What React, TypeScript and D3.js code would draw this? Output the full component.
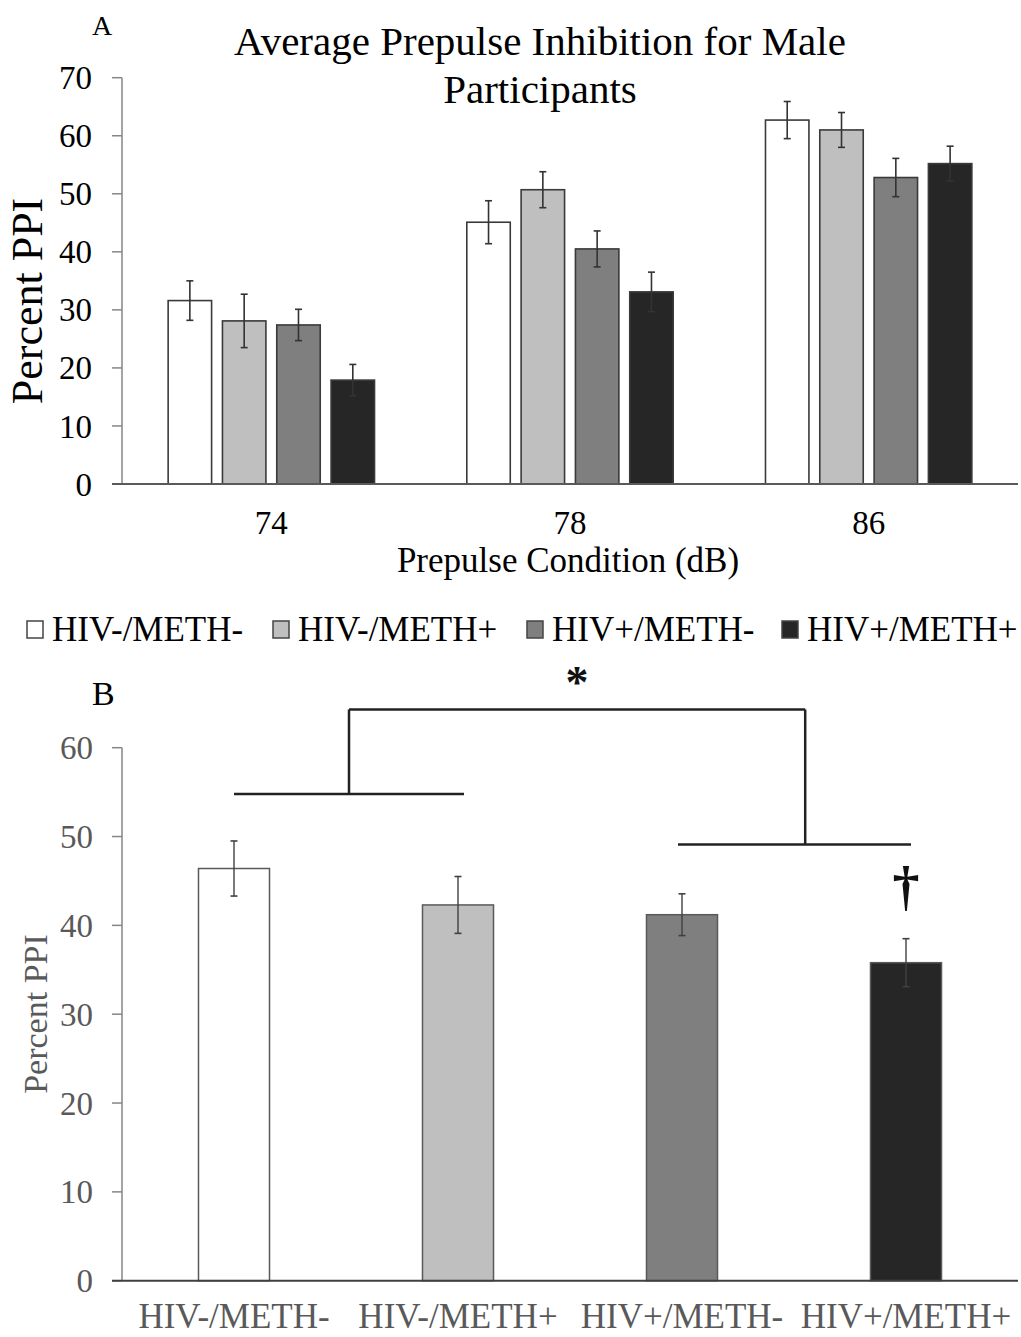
import React from "react";
import * as d3 from "d3";

// ---------- Data ----------
const conditions = ["74", "78", "86"];
const groups = ["HIV-/METH-", "HIV-/METH+", "HIV+/METH-", "HIV+/METH+"];
const groupFills = ["#ffffff", "#bfbfbf", "#7f7f7f", "#262626"];

// Panel A: mean percent PPI per condition (74, 78, 86 dB)
const meanNegNeg = [31.6, 45.1, 62.7];
const meanNegPos = [28.1, 50.7, 61.0];
const meanPosNeg = [27.4, 40.5, 52.8];
const meanPosPos = [17.9, 33.1, 55.2];
// Panel A: SEM
const semNegNeg = [3.4, 3.7, 3.2];
const semNegPos = [4.6, 3.1, 3.0];
const semPosNeg = [2.7, 3.1, 3.3];
const semPosPos = [2.7, 3.4, 3.0];

const ticksA = [0, 10, 20, 30, 40, 50, 60, 70];

// Panel B: mean percent PPI across conditions
const meanB = [46.4, 42.3, 41.2, 35.8];
const semB = [3.1, 3.2, 2.35, 2.7];
const ticksB = [0, 10, 20, 30, 40, 50, 60];

// Panel B significance bracket levels (percent PPI units)
const bracketLeftLevel = 54.8;
const bracketTopLevel = 64.3;
const bracketRightLevel = 49.1;

const FONT = "'Liberation Serif', 'Times New Roman', serif";

export default function App() {
  const means = [meanNegNeg, meanNegPos, meanPosNeg, meanPosPos];
  const sems = [semNegNeg, semNegPos, semPosNeg, semPosPos];

  // Panel A scales
  const xA0 = d3
    .scaleBand<string>()
    .domain(conditions)
    .range([122, 1018])
    .paddingInner(0.309)
    .paddingOuter(0.1545);
  const xA1 = d3
    .scaleBand<string>()
    .domain(groups)
    .range([0, xA0.bandwidth()])
    .paddingInner(0.2);
  const yA = d3.scaleLinear().domain([0, 70]).range([484, 77.7]);

  // Panel B scales
  const xB = d3
    .scaleBand<string>()
    .domain(groups)
    .range([122, 1018])
    .paddingInner(0.683)
    .paddingOuter(0.3415);
  const yB = d3.scaleLinear().domain([0, 60]).range([1280.7, 747.7]);

  const cB = (i: number) => (xB(groups[i]) as number) + xB.bandwidth() / 2;
  const leftX1 = cB(0);
  const leftX2 = cB(1) + 6;
  const rightX1 = cB(2) - 4;
  const rightX2 = cB(3) + 5;
  const leftMid = (leftX1 + leftX2) / 2;
  const rightMid = cB(2) + 0.55 * (cB(3) - cB(2));

  const legendX = [27, 273, 527, 782];

  return (
    <svg
      width={1021}
      height={1337}
      style={{ position: "absolute", left: 0, top: 0, background: "#fff" }}
      fontFamily={FONT}
    >
      <rect x={0} y={0} width={1021} height={1337} fill="#fff" />
      {/* ---------- Panel A ---------- */}
      <text x={92} y={35} fontSize={28} fill="#000">A</text>
      <text x={540} y={55} fontSize={41} textAnchor="middle" fill="#000">
        Average Prepulse Inhibition for Male
      </text>
      <text x={540} y={103} fontSize={41} textAnchor="middle" fill="#000">
        Participants
      </text>

      {/* y axis */}
      <line x1={122} x2={122} y1={yA(70)} y2={yA(0)} stroke="#868686" strokeWidth={1.5} />
      {ticksA.map((t) => (
        <g key={"ta" + t}>
          <line x1={112} x2={122} y1={yA(t)} y2={yA(t)} stroke="#868686" strokeWidth={1.5} />
          <text x={92} y={yA(t)} dy="0.35em" fontSize={33} textAnchor="end" fill="#000">
            {t}
          </text>
        </g>
      ))}
      <text
        transform={`translate(42, 301) rotate(-90)`}
        fontSize={44}
        textAnchor="middle"
        fill="#000"
      >
        Percent PPI
      </text>

      {/* bars */}
      {conditions.map((c, ci) => (
        <g key={"ga" + c} transform={`translate(${xA0(c)},0)`}>
          {groups.map((g, gi) => {
            const v = means[gi][ci];
            const e = sems[gi][ci];
            const x = xA1(g) as number;
            const cx = x + xA1.bandwidth() / 2;
            return (
              <g key={g}>
                <rect
                  x={x}
                  y={yA(v)}
                  width={xA1.bandwidth()}
                  height={yA(0) - yA(v)}
                  fill={groupFills[gi]}
                  stroke="#3a3a3a"
                  strokeWidth={1.6}
                />
                <line x1={cx} x2={cx} y1={yA(v + e)} y2={yA(v - e)} stroke="#333" strokeWidth={1.6} />
                <line x1={cx - 3.5} x2={cx + 3.5} y1={yA(v + e)} y2={yA(v + e)} stroke="#333" strokeWidth={1.6} />
                <line x1={cx - 3.5} x2={cx + 3.5} y1={yA(v - e)} y2={yA(v - e)} stroke="#333" strokeWidth={1.6} />
              </g>
            );
          })}
          <text
            x={xA0.bandwidth() / 2}
            y={534}
            fontSize={33}
            textAnchor="middle"
            fill="#000"
          >
            {c}
          </text>
        </g>
      ))}
      {/* x axis */}
      <line x1={112} x2={1018} y1={yA(0)} y2={yA(0)} stroke="#595959" strokeWidth={2} />
      <text x={568} y={572} fontSize={35} textAnchor="middle" fill="#000">
        Prepulse Condition (dB)
      </text>

      {/* legend */}
      {groups.map((g, gi) => (
        <g key={"lg" + g}>
          <rect
            x={legendX[gi]}
            y={621}
            width={16}
            height={17}
            fill={groupFills[gi]}
            stroke="#444"
            strokeWidth={1.5}
          />
          <text x={legendX[gi] + 25} y={641} fontSize={35} fill="#000">
            {g}
          </text>
        </g>
      ))}

      {/* ---------- Panel B ---------- */}
      <text x={92} y={705} fontSize={34} fill="#000">B</text>

      <line x1={122} x2={122} y1={yB(60)} y2={yB(0)} stroke="#868686" strokeWidth={1.5} />
      {ticksB.map((t) => (
        <g key={"tb" + t}>
          <line x1={112} x2={122} y1={yB(t)} y2={yB(t)} stroke="#868686" strokeWidth={1.5} />
          <text x={93} y={yB(t)} dy="0.35em" fontSize={33} textAnchor="end" fill="#595959">
            {t}
          </text>
        </g>
      ))}
      <text
        transform={`translate(47, 1014) rotate(-90)`}
        fontSize={34}
        textAnchor="middle"
        fill="#595959"
      >
        Percent PPI
      </text>

      {groups.map((g, gi) => {
        const v = meanB[gi];
        const e = semB[gi];
        const x = xB(g) as number;
        const cx = x + xB.bandwidth() / 2;
        return (
          <g key={"bb" + g}>
            <rect
              x={x}
              y={yB(v)}
              width={xB.bandwidth()}
              height={yB(0) - yB(v)}
              fill={groupFills[gi]}
              stroke="#595959"
              strokeWidth={1.5}
            />
            <line x1={cx} x2={cx} y1={yB(v + e)} y2={yB(v - e)} stroke="#404040" strokeWidth={1.4} />
            <line x1={cx - 3.5} x2={cx + 3.5} y1={yB(v + e)} y2={yB(v + e)} stroke="#404040" strokeWidth={1.6} />
            <line x1={cx - 3.5} x2={cx + 3.5} y1={yB(v - e)} y2={yB(v - e)} stroke="#404040" strokeWidth={1.6} />
            <text x={cx} y={1328} fontSize={35} textAnchor="middle" fill="#595959">
              {g}
            </text>
          </g>
        );
      })}
      <line x1={112} x2={1018} y1={yB(0)} y2={yB(0)} stroke="#404040" strokeWidth={2} />

      {/* significance bracket */}
      <g stroke="#222" strokeWidth={2.5} fill="none">
        <line x1={leftX1} x2={leftX2} y1={yB(bracketLeftLevel)} y2={yB(bracketLeftLevel)} />
        <line x1={rightX1} x2={rightX2} y1={yB(bracketRightLevel)} y2={yB(bracketRightLevel)} />
        <line x1={leftMid} x2={leftMid} y1={yB(bracketLeftLevel)} y2={yB(bracketTopLevel)} />
        <line x1={rightMid} x2={rightMid} y1={yB(bracketRightLevel)} y2={yB(bracketTopLevel)} />
        <line x1={leftMid} x2={rightMid} y1={yB(bracketTopLevel)} y2={yB(bracketTopLevel)} />
      </g>
      <text
        x={(leftMid + rightMid) / 2}
        y={698}
        fontSize={46}
        fontWeight="bold"
        textAnchor="middle"
        fill="#111"
      >
        *
      </text>
      <text
        x={cB(3)}
        y={904}
        fontSize={54}
        fontWeight="bold"
        textAnchor="middle"
        fill="#111"
      >
        †
      </text>
    </svg>
  );
}
